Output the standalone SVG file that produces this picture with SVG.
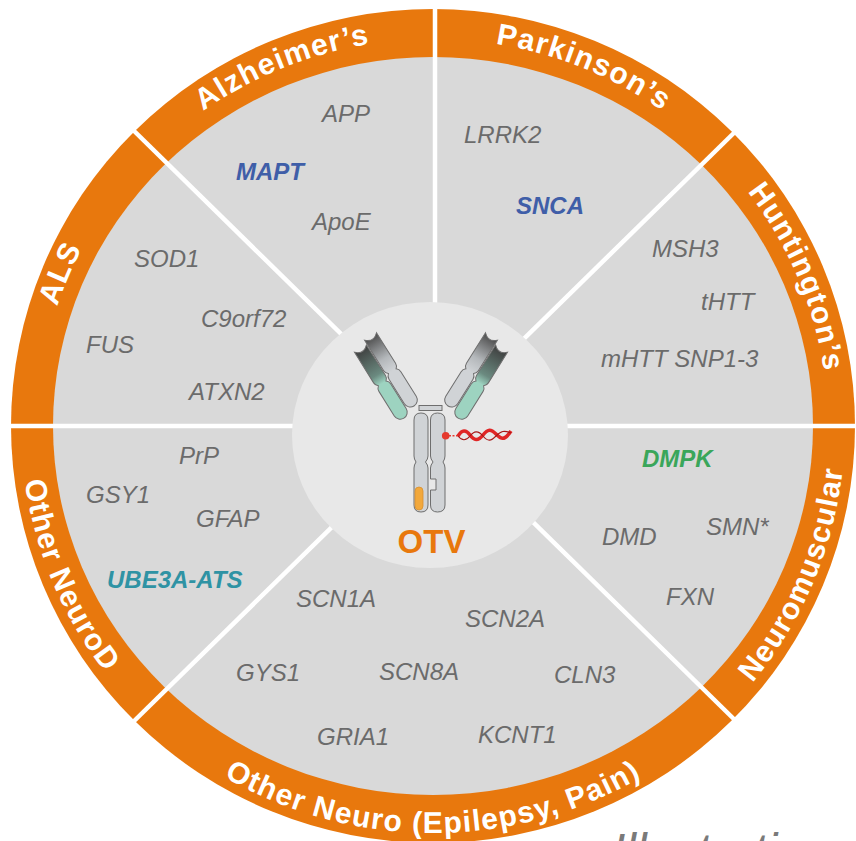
<svg xmlns="http://www.w3.org/2000/svg" xmlns:xlink="http://www.w3.org/1999/xlink" width="856" height="841" viewBox="0 0 856 841">
  <style>
    .ring{font-family:"Liberation Sans",Arial,sans-serif;font-weight:bold;font-size:30px;fill:#ffffff;letter-spacing:1.2px}
    .gene{font-family:"Liberation Sans",Arial,sans-serif;font-style:italic;font-size:24px;fill:#6b6b6b}
    .key{font-weight:bold}
    .blue{fill:#3f5ea8}
    .green{fill:#3aa65a}
    .teal{fill:#2f93a4}
    .div{stroke:#ffffff;stroke-width:4.5;fill:none}
    .ab{stroke:#6e6e6e;stroke-width:1}
  </style>
  <defs>
    <!-- baselines for the ring captions: clockwise arcs keep glyph tops outward, counter-clockwise arcs keep them inward -->
    <path id="arcALS" d="M56.3,542.4 A395,387 0 0 1 250.6,82.7"/>
    <path id="arcALZ" d="M82.6,247.3 A395,387 0 0 1 551.8,56.9"/>
    <path id="arcPARK" d="M314.2,56.9 A395,387 0 0 1 783.4,247.3"/>
    <path id="arcHUNT" d="M615.4,82.7 A395,387 0 0 1 809.7,542.4"/>
    <path id="arcNM" d="M623.2,787 A412,407 0 0 0 825.9,303.6"/>
    <path id="arcON" d="M76.2,629.5 A412,407 0 0 0 789.8,629.5"/>
    <path id="arcOND" d="M40.1,303.6 A412,407 0 0 0 242.8,787"/>

    <linearGradient id="heavyGrad" x1="0" y1="0" x2="0" y2="1">
      <stop offset="0" stop-color="#4b4b4b"/>
      <stop offset="0.32" stop-color="#b4b8bb"/>
      <stop offset="0.5" stop-color="#d0d3d6"/>
      <stop offset="1" stop-color="#d0d3d6"/>
    </linearGradient>
    <linearGradient id="lightGrad" x1="0" y1="0" x2="0" y2="1">
      <stop offset="0" stop-color="#3e3e3e"/>
      <stop offset="0.38" stop-color="#6b8a80"/>
      <stop offset="0.5" stop-color="#9dd3c0"/>
      <stop offset="1" stop-color="#9dd3c0"/>
    </linearGradient>

    <!-- one antibody chain, drawn upright with its base at the origin -->
    <path id="chain" d="M-7,-82 Q0,-75 7,-82 L7,-46 Q7,-43 4.5,-41 Q7,-39 7,-36 L7,-7 A7,7 0 0 1 -7,-7 L-7,-36 Q-7,-39 -4.5,-41 Q-7,-43 -7,-46 Z"/>
  </defs>

  <!-- wheel body -->
  <ellipse cx="433" cy="426" rx="422" ry="417" fill="#e8780d"/>
  <ellipse cx="433" cy="426" rx="380" ry="369" fill="#d9d9d9"/>

  <!-- sector dividers -->
  <g id="connectors" class="div">
    <line x1="435" y1="426" x2="435" y2="0"/>
    <line x1="0" y1="426" x2="856" y2="426"/>
    <line x1="435" y1="426" x2="128" y2="125"/>
    <line x1="435" y1="426" x2="742" y2="125"/>
    <line x1="435" y1="426" x2="128" y2="727"/>
    <line x1="435" y1="426" x2="742" y2="727"/>
  </g>

  <!-- hub with the antibody -->
  <g id="otv">
    <ellipse cx="430" cy="435" rx="138" ry="133" fill="#e8e8e8"/>
    <!-- left Fab arm -->
    <g transform="translate(414,406) rotate(-32)">
      <use href="#chain" fill="url(#heavyGrad)" class="ab"/>
      <use href="#chain" transform="translate(-15,5)" fill="url(#lightGrad)" class="ab"/>
    </g>
    <!-- right Fab arm -->
    <g transform="translate(448,406) rotate(32)">
      <use href="#chain" fill="url(#heavyGrad)" class="ab"/>
      <use href="#chain" transform="translate(15,5)" fill="url(#lightGrad)" class="ab"/>
    </g>
    <!-- hinge -->
    <rect x="419" y="405.5" width="23" height="5" fill="#d0d3d6" class="ab"/>
    <!-- Fc stem -->
    <path d="M414,420 Q414,413 421,413 Q428,413 428,420 L428,456 Q428,459 425.5,462 Q428,465 428,468 L428,505 Q428,512 421,512 Q414,512 414,505 L414,468 Q414,465 416,462 Q414,459 414,456 Z" fill="#d0d3d6" class="ab"/>
    <path d="M430.5,420 Q430.5,413 437.5,413 Q445,413 445,420 L445,456 Q445,459 443,462 Q445,465 445,468 L445,505 Q445,512 437.5,512 Q430.5,512 430.5,505 L430.5,490 L436,490 L436,479 L430.5,479 L430.5,468 Q430.5,465 433,462 Q430.5,459 430.5,456 Z" fill="#d0d3d6" class="ab"/>
    <rect x="415" y="487" width="8" height="23" rx="4" fill="#f2a83b" stroke="#d89030" stroke-width="0.8"/>
    <!-- payload -->
    <line x1="449" y1="435.7" x2="458" y2="435.7" stroke="#e53a2e" stroke-width="1.5" stroke-dasharray="2 1.5"/>
    <path d="M458,436 C462,429.5 466,429.5 470,435 S478,441.5 483,435 S491,429 496,434 S504,441.5 511,431" fill="none" stroke="#e02626" stroke-width="3.6"/>
    <path d="M458,436 C462,441 466,441 470,436 S478,430 483,436 S491,441 496,436 S504,430 511,433" fill="none" stroke="#a81818" stroke-width="1.1"/>
    <circle cx="445.7" cy="435.7" r="3.8" fill="#e53a2e"/>
    <text x="431.5" y="553" text-anchor="middle" font-family="'Liberation Sans',Arial,sans-serif" font-weight="bold" font-size="33" fill="#e8780d">OTV</text>
  </g>

  <g id="alzheimers">
    <text class="ring"><textPath href="#arcALZ" startOffset="50%" text-anchor="middle">Alzheimer’s</textPath></text>
    <text class="gene" x="322" y="122">APP</text>
    <text class="gene key blue" x="236" y="180">MAPT</text>
    <text class="gene" x="312" y="230">ApoE</text>
  </g>

  <g id="parkinsons">
    <text class="ring"><textPath href="#arcPARK" startOffset="50%" text-anchor="middle">Parkinson’s</textPath></text>
    <text class="gene" x="464" y="143">LRRK2</text>
    <text class="gene key blue" x="516" y="214">SNCA</text>
  </g>

  <g id="huntingtons">
    <text class="ring"><textPath href="#arcHUNT" startOffset="50%" text-anchor="middle">Huntington’s</textPath></text>
    <text class="gene" x="652" y="257">MSH3</text>
    <text class="gene" x="701" y="310">tHTT</text>
    <text class="gene" x="601" y="367">mHTT SNP1-3</text>
  </g>

  <g id="neuromuscular">
    <text class="ring"><textPath href="#arcNM" startOffset="50%" text-anchor="middle">Neuromuscular</textPath></text>
    <text class="gene key green" x="642" y="467">DMPK</text>
    <text class="gene" x="706" y="535">SMN*</text>
    <text class="gene" x="602" y="545">DMD</text>
    <text class="gene" x="666" y="605">FXN</text>
  </g>

  <g id="other-neuro">
    <text class="ring"><textPath href="#arcON" startOffset="50%" text-anchor="middle">Other Neuro (Epilepsy, Pain)</textPath></text>
    <text class="gene" x="296" y="607">SCN1A</text>
    <text class="gene" x="465" y="627">SCN2A</text>
    <text class="gene" x="236" y="681">GYS1</text>
    <text class="gene" x="379" y="680">SCN8A</text>
    <text class="gene" x="554" y="683">CLN3</text>
    <text class="gene" x="317" y="745">GRIA1</text>
    <text class="gene" x="478" y="743">KCNT1</text>
  </g>

  <g id="other-neurod">
    <text class="ring"><textPath href="#arcOND" startOffset="50%" text-anchor="middle">Other NeuroD</textPath></text>
    <text class="gene" x="179" y="464">PrP</text>
    <text class="gene" x="86" y="503">GSY1</text>
    <text class="gene" x="196" y="527">GFAP</text>
    <text class="gene key teal" x="107" y="588">UBE3A-ATS</text>
  </g>

  <g id="als">
    <text class="ring"><textPath href="#arcALS" startOffset="50%" text-anchor="middle">ALS</textPath></text>
    <text class="gene" x="134" y="267">SOD1</text>
    <text class="gene" x="201" y="327">C9orf72</text>
    <text class="gene" x="86" y="353">FUS</text>
    <text class="gene" x="189" y="400">ATXN2</text>
  </g>

  <!-- footnote running off the lower edge -->
  <text x="612" y="867" font-family="'Liberation Sans',Arial,sans-serif" font-style="italic" font-size="48" fill="#7a7a7a">Illustrative</text>
</svg>
